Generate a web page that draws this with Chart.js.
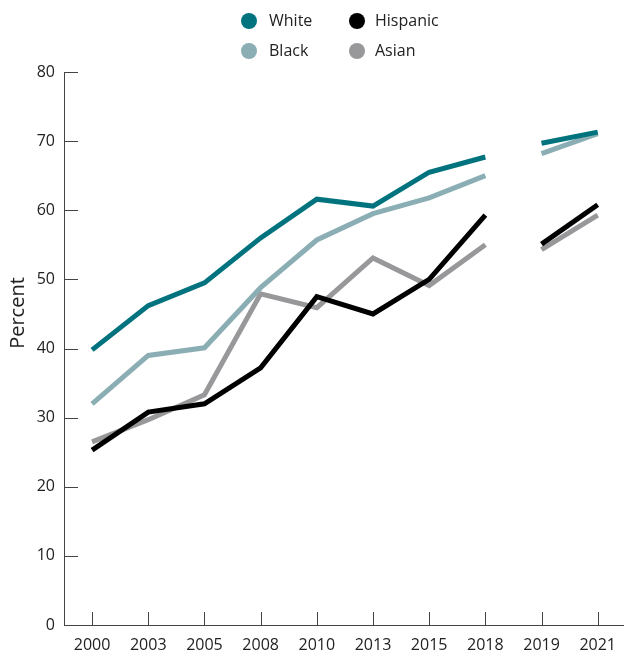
<!DOCTYPE html>
<html>
<head>
<meta charset="utf-8">
<script src="https://cdn.jsdelivr.net/npm/chart.js@4/dist/chart.umd.min.js"></script>
<style>
  html, body { margin:0; background:#fff; overflow:hidden; }
  #wrap { position:relative; width:624px; height:661px; overflow:hidden; }
  #legend { position:absolute; left:0; top:0; width:624px; height:64px; font-family:"Open Sans",sans-serif; font-size:16px; color:#222; }
  .item { position:absolute; height:22px; line-height:22px; }
  .dot { position:absolute; left:0; top:3px; width:16px; height:16px; border-radius:50%; }
  .item span { position:absolute; top:-1px; white-space:nowrap; }
</style>
</head>
<body>
<div id="wrap">
  <canvas id="chart" width="627" height="661"></canvas>
  <div id="legend"></div>
</div>
<script>

var years = ["2000","2003","2005","2008","2010","2013","2015","2018","2019","2021"];

var white    = [39.8, 46.2, 49.5, 56.0, 61.6, 60.6, 65.5, 67.7, 69.7, 71.3];
var black    = [32.0, 39.0, 40.1, 48.8, 55.7, 59.5, 61.8, 65.0, 68.2, 71.1];
var hispanic = [25.3, 30.8, 32.0, 37.2, 47.5, 45.0, 50.0, 59.3, 55.1, 60.8];
var asian    = [26.5, 29.7, 33.3, 47.9, 45.9, 53.1, 49.1, 55.0, 54.3, 59.3];

var legendItems = [
  {label:"White", color:"#00737e", x:241, y:10},
  {label:"Hispanic", color:"#000000", x:349, y:10},
  {label:"Black", color:"#8aaeb4", x:241, y:40},
  {label:"Asian", color:"#98989b", x:349, y:40}
];

// html legend, 2x2 grid like the original
var lg = document.getElementById("legend");
for (var i=0;i<legendItems.length;i++){
    var it = legendItems[i];
    var d = document.createElement("div");
    d.className = "item";
    d.style.left = it.x + "px";
    d.style.top = it.y + "px";
    d.innerHTML = '<div class="dot" style="background:'+it.color+'"></div><span style="left:'+(i%2 ? 26 : 28)+'px">'+it.label+'</span>';
    lg.appendChild(d);
}

// break the line between 2018 and 2019
function gap(ctx){
    return ctx.p0DataIndex === 7 ? 'rgba(0,0,0,0)' : undefined;
}

function series(label, data, color, order){
    return {
        label: label,
        data: data,
        borderColor: color,
        backgroundColor: color,
        borderWidth: 5,
        pointRadius: 0,
        fill: false,
        tension: 0,
        borderCapStyle: 'butt',
        borderJoinStyle: 'miter',
        order: order,
        segment: { borderColor: gap }
    };
}

var innerTicks = {
    id: 'innerTicks',
    afterDraw: function(chart){
        var ctx = chart.ctx;
        var area = chart.chartArea;
        var ys = chart.scales.y, xs = chart.scales.x;
        ctx.save();
        ctx.strokeStyle = '#444';
        ctx.lineWidth = 1;
        ctx.beginPath();
        for (var i=0;i<ys.ticks.length;i++){
            var y = Math.round(ys.getPixelForValue(ys.ticks[i].value)) + 0.5;
            ctx.moveTo(area.left, y);
            ctx.lineTo(area.left + 14, y);
        }
        for (var j=0;j<xs.ticks.length;j++){
            var x = Math.round(xs.getPixelForTick(j)) + 0.5;
            ctx.moveTo(x, area.bottom);
            ctx.lineTo(x, area.bottom - 13);
        }
        ctx.stroke();
        // axis title, placed where the original has it
        ctx.translate(18, 313);
        ctx.rotate(-Math.PI/2);
        ctx.fillStyle = '#222';
        ctx.font = '20px "Open Sans", sans-serif';
        ctx.textAlign = 'center';
        ctx.textBaseline = 'middle';
        ctx.fillText('Percent', 0, 0);
        ctx.restore();
    }
};

Chart.defaults.font.family = '"Open Sans", sans-serif';
Chart.defaults.color = '#222';

var chart = new Chart(document.getElementById("chart"), {
    type: 'line',
    data: {
        labels: years,
        datasets: [
            series("Hispanic", hispanic, "#000000", 1),
            series("White", white, "#00737e", 2),
            series("Black", black, "#8aaeb4", 3),
            series("Asian", asian, "#98989b", 4)
        ]
    },
    options: {
        responsive: false,
        animation: false,
        layout: { padding: { top: 72, right: 0, bottom: 0, left: 0 } },
        plugins: {
            legend: { display: false },
            tooltip: { enabled: false }
        },
        scales: {
            x: {
                offset: true,
                grid: { display: true, drawOnChartArea: false, drawTicks: false },
                border: { display: true, color: '#444', width: 1 },
                ticks: { font: { size: 16 }, padding: 11, maxRotation: 0, autoSkip: false },
                afterFit: function(s){ s.height = 36; }
            },
            y: {
                min: 0,
                max: 80,
                grid: { display: true, drawOnChartArea: false, drawTicks: false },
                border: { display: true, color: '#444', width: 1 },
                ticks: { stepSize: 10, font: { size: 16 }, padding: 9 },
                afterFit: function(s){ s.width = 64; }
            }
        }
    },
    plugins: [innerTicks]
});

</script>
</body>
</html>
